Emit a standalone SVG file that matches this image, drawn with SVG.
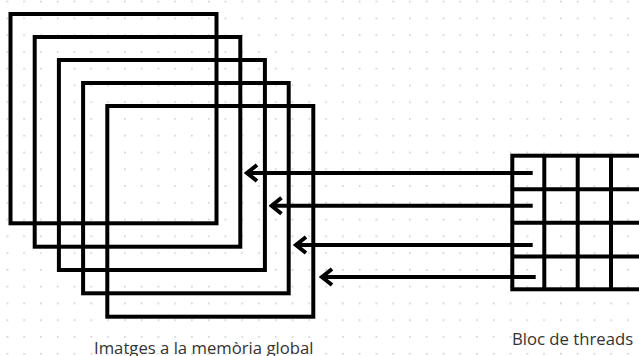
<svg xmlns="http://www.w3.org/2000/svg" width="639" height="356" viewBox="0 0 639 356">
<defs>
<pattern id="dots" patternUnits="userSpaceOnUse" x="6.6" y="0.7" width="16.77" height="16.77">
<rect x="0" y="0" width="1.6" height="1.6" fill="#c9ccd8"/>
</pattern>
<marker id="chev" markerUnits="userSpaceOnUse" viewBox="-14 -11 17 22" refX="0" refY="0" markerWidth="17" markerHeight="22" orient="auto">
<path d="M-10,-8 L0,0 L-10,8" fill="none" stroke="#000" stroke-width="4"/>
</marker>
<style>
.sq{fill:none;stroke:#000;stroke-width:4}
.ln{stroke:#000;stroke-width:4;fill:none}
.lbl{font-family:"Open Sans","Noto Sans",sans-serif;font-size:16.7px;fill:#333}
</style>
</defs>
<rect x="0" y="0" width="639" height="356" fill="#fff"/>
<rect x="0" y="0" width="639" height="356" fill="url(#dots)"/>
<g id="images">
<rect class="sq" x="10.5" y="14" width="206" height="209.3"/>
<rect class="sq" x="34.7" y="37" width="205.6" height="209.7"/>
<rect class="sq" x="58.9" y="60" width="206" height="210"/>
<rect class="sq" x="83.1" y="83" width="205.6" height="210.3"/>
<rect class="sq" x="107.3" y="106" width="206" height="210.7"/>
</g>
<g id="block">
<rect class="sq" x="512.3" y="155.7" width="140" height="133.6"/>
<path class="ln" d="M544.3,155.7V289.3M577.7,155.7V289.3M611,155.7V289.3M512.3,189.3H639M512.3,222.7H639M512.3,256.5H639"/>
</g>
<g id="connectors">
<line class="ln" x1="532.7" y1="173" x2="247" y2="173" marker-end="url(#chev)"/>
<line class="ln" x1="532.7" y1="205.7" x2="271.5" y2="205.7" marker-end="url(#chev)"/>
<line class="ln" x1="532.7" y1="245" x2="296" y2="245" marker-end="url(#chev)"/>
<line class="ln" x1="535.7" y1="277" x2="322" y2="277" marker-end="url(#chev)"/>
</g>
<g id="labels">
<text class="lbl" x="94" y="354">Imatges a la memòria global</text>
<text class="lbl" x="512" y="344.5">Bloc de threads</text>
</g>
</svg>
